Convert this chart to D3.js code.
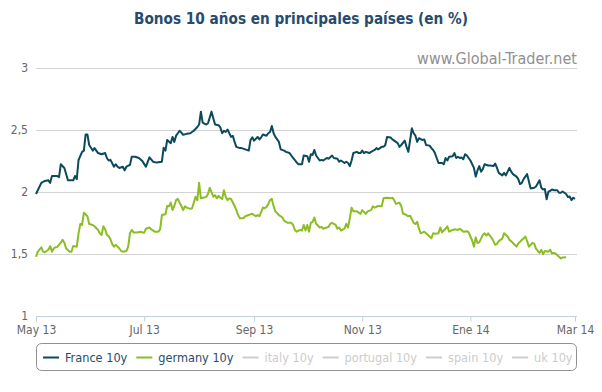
<!DOCTYPE html>
<html><head><meta charset="utf-8">
<script src="https://cdn.jsdelivr.net/npm/d3@7"></script>
<style>
body{margin:0;background:#fff}
svg{display:block}
text{font-family:"DejaVu Sans Condensed","Liberation Sans",sans-serif}
</style>
</head><body>
<svg id="chart" width="602" height="392"></svg>
<script>
// ---- data ----
const franceDates = ["2013-05-01","2013-05-04","2013-05-06","2013-05-08","2013-05-09","2013-05-10","2013-05-13","2013-05-14","2013-05-15","2013-05-17","2013-05-19","2013-05-22","2013-05-23","2013-05-24","2013-05-25","2013-05-27","2013-05-28","2013-05-29","2013-05-30","2013-05-31","2013-06-02","2013-06-03","2013-06-05","2013-06-07","2013-06-09","2013-06-10","2013-06-11","2013-06-12","2013-06-14","2013-06-15","2013-06-16","2013-06-17","2013-06-19","2013-06-20","2013-06-21","2013-06-23","2013-06-24","2013-06-26","2013-06-28","2013-06-30","2013-07-02","2013-07-04","2013-07-06","2013-07-08","2013-07-11","2013-07-12","2013-07-13","2013-07-14","2013-07-16","2013-07-17","2013-07-18","2013-07-19","2013-07-20","2013-07-21","2013-07-22","2013-07-23","2013-07-25","2013-07-27","2013-07-29","2013-07-31","2013-08-01","2013-08-02","2013-08-03","2013-08-05","2013-08-06","2013-08-08","2013-08-09","2013-08-10","2013-08-12","2013-08-13","2013-08-14","2013-08-15","2013-08-16","2013-08-17","2013-08-19","2013-08-20","2013-08-21","2013-08-22","2013-08-24","2013-08-25","2013-08-27","2013-08-29","2013-08-30","2013-08-31","2013-09-01","2013-09-03","2013-09-04","2013-09-05","2013-09-06","2013-09-08","2013-09-09","2013-09-10","2013-09-11","2013-09-12","2013-09-13","2013-09-15","2013-09-16","2013-09-18","2013-09-19","2013-09-21","2013-09-22","2013-09-24","2013-09-25","2013-09-26","2013-09-28","2013-09-29","2013-10-01","2013-10-02","2013-10-03","2013-10-04","2013-10-05","2013-10-06","2013-10-08","2013-10-09","2013-10-10","2013-10-12","2013-10-13","2013-10-15","2013-10-16","2013-10-18","2013-10-19","2013-10-20","2013-10-22","2013-10-23","2013-10-24","2013-10-25","2013-10-26","2013-10-27","2013-10-29","2013-10-30","2013-10-31","2013-11-01","2013-11-02","2013-11-03","2013-11-05","2013-11-06","2013-11-08","2013-11-09","2013-11-10","2013-11-12","2013-11-13","2013-11-14","2013-11-15","2013-11-17","2013-11-18","2013-11-19","2013-11-21","2013-11-22","2013-11-23","2013-11-25","2013-11-26","2013-11-27","2013-11-29","2013-11-30","2013-12-01","2013-12-02","2013-12-03","2013-12-05","2013-12-06","2013-12-07","2013-12-09","2013-12-10","2013-12-11","2013-12-12","2013-12-13","2013-12-14","2013-12-16","2013-12-17","2013-12-18","2013-12-19","2013-12-20","2013-12-22","2013-12-23","2013-12-24","2013-12-25","2013-12-26","2013-12-27","2013-12-28","2013-12-29","2013-12-30","2013-12-31","2014-01-01","2014-01-03","2014-01-04","2014-01-05","2014-01-06","2014-01-07","2014-01-08","2014-01-09","2014-01-11","2014-01-12","2014-01-14","2014-01-15","2014-01-16","2014-01-17","2014-01-19","2014-01-20","2014-01-21","2014-01-22","2014-01-23","2014-01-24","2014-01-25","2014-01-27","2014-01-28","2014-01-29","2014-01-30","2014-01-31","2014-02-02","2014-02-03","2014-02-04","2014-02-06","2014-02-07","2014-02-09","2014-02-10","2014-02-11","2014-02-12","2014-02-13","2014-02-14","2014-02-15","2014-02-16","2014-02-17","2014-02-19","2014-02-20","2014-02-21","2014-02-22","2014-02-24","2014-02-25","2014-02-26","2014-02-27","2014-02-28","2014-03-01"];
const franceValues = [1.98,2.07,2.085,2.09,2.07,2.125,2.125,2.115,2.22,2.19,2.09,2.09,2.125,2.10,2.254,2.32,2.33,2.46,2.46,2.375,2.33,2.35,2.31,2.30,2.31,2.27,2.25,2.255,2.20,2.22,2.20,2.19,2.20,2.17,2.20,2.215,2.28,2.28,2.27,2.245,2.20,2.276,2.24,2.233,2.24,2.353,2.33,2.415,2.39,2.44,2.40,2.45,2.47,2.49,2.475,2.457,2.465,2.47,2.49,2.52,2.54,2.644,2.555,2.54,2.55,2.644,2.59,2.54,2.535,2.515,2.47,2.49,2.48,2.50,2.44,2.45,2.40,2.36,2.35,2.35,2.34,2.33,2.415,2.437,2.41,2.44,2.42,2.437,2.46,2.45,2.47,2.48,2.528,2.47,2.44,2.40,2.34,2.33,2.32,2.31,2.29,2.254,2.235,2.22,2.22,2.29,2.285,2.24,2.30,2.295,2.335,2.29,2.25,2.255,2.25,2.27,2.265,2.29,2.27,2.265,2.24,2.25,2.23,2.24,2.23,2.205,2.25,2.31,2.32,2.31,2.31,2.33,2.31,2.32,2.31,2.32,2.335,2.35,2.34,2.36,2.36,2.375,2.44,2.435,2.42,2.41,2.39,2.36,2.375,2.41,2.36,2.32,2.51,2.47,2.45,2.40,2.43,2.415,2.42,2.375,2.37,2.35,2.335,2.31,2.27,2.23,2.23,2.22,2.27,2.25,2.28,2.285,2.31,2.27,2.28,2.27,2.275,2.26,2.30,2.29,2.27,2.25,2.19,2.12,2.17,2.205,2.16,2.18,2.22,2.21,2.21,2.205,2.225,2.19,2.15,2.13,2.15,2.13,2.16,2.19,2.16,2.14,2.12,2.10,2.06,2.07,2.10,2.14,2.08,2.025,2.03,2.04,2.09,2.03,2.017,2.02,1.937,1.998,2.005,2.017,2.01,2.01,1.99,1.99,2.00,1.98,1.955,1.96,1.93,1.95,1.94];

const germanyDates = ["2013-05-01","2013-05-02","2013-05-04","2013-05-05","2013-05-06","2013-05-08","2013-05-09","2013-05-10","2013-05-11","2013-05-12","2013-05-13","2013-05-15","2013-05-16","2013-05-17","2013-05-18","2013-05-20","2013-05-21","2013-05-22","2013-05-24","2013-05-25","2013-05-26","2013-05-27","2013-05-28","2013-05-30","2013-05-31","2013-06-02","2013-06-03","2013-06-05","2013-06-06","2013-06-07","2013-06-08","2013-06-09","2013-06-10","2013-06-11","2013-06-12","2013-06-13","2013-06-14","2013-06-15","2013-06-16","2013-06-17","2013-06-18","2013-06-19","2013-06-21","2013-06-22","2013-06-23","2013-06-24","2013-06-25","2013-06-27","2013-06-29","2013-06-30","2013-07-01","2013-07-02","2013-07-04","2013-07-05","2013-07-07","2013-07-09","2013-07-10","2013-07-11","2013-07-13","2013-07-14","2013-07-15","2013-07-16","2013-07-17","2013-07-18","2013-07-19","2013-07-20","2013-07-21","2013-07-22","2013-07-23","2013-07-24","2013-07-25","2013-07-27","2013-07-28","2013-07-29","2013-07-30","2013-07-31","2013-08-01","2013-08-02","2013-08-03","2013-08-05","2013-08-06","2013-08-07","2013-08-08","2013-08-09","2013-08-10","2013-08-11","2013-08-12","2013-08-13","2013-08-14","2013-08-15","2013-08-16","2013-08-17","2013-08-18","2013-08-19","2013-08-21","2013-08-22","2013-08-23","2013-08-24","2013-08-26","2013-08-27","2013-08-29","2013-08-30","2013-08-31","2013-09-02","2013-09-03","2013-09-04","2013-09-06","2013-09-07","2013-09-08","2013-09-09","2013-09-10","2013-09-11","2013-09-12","2013-09-13","2013-09-15","2013-09-17","2013-09-18","2013-09-20","2013-09-22","2013-09-23","2013-09-24","2013-09-25","2013-09-27","2013-09-28","2013-09-29","2013-09-30","2013-10-01","2013-10-02","2013-10-03","2013-10-04","2013-10-05","2013-10-06","2013-10-08","2013-10-09","2013-10-10","2013-10-12","2013-10-13","2013-10-14","2013-10-15","2013-10-17","2013-10-18","2013-10-19","2013-10-20","2013-10-22","2013-10-23","2013-10-24","2013-10-25","2013-10-26","2013-10-27","2013-10-29","2013-10-31","2013-11-01","2013-11-03","2013-11-04","2013-11-06","2013-11-07","2013-11-08","2013-11-10","2013-11-11","2013-11-12","2013-11-13","2013-11-15","2013-11-17","2013-11-18","2013-11-19","2013-11-20","2013-11-22","2013-11-23","2013-11-24","2013-11-25","2013-11-27","2013-11-28","2013-11-30","2013-12-01","2013-12-02","2013-12-03","2013-12-04","2013-12-06","2013-12-07","2013-12-09","2013-12-10","2013-12-11","2013-12-12","2013-12-14","2013-12-15","2013-12-16","2013-12-17","2013-12-18","2013-12-19","2013-12-20","2013-12-22","2013-12-23","2013-12-25","2013-12-26","2013-12-27","2013-12-28","2013-12-30","2013-12-31","2014-01-01","2014-01-02","2014-01-03","2014-01-04","2014-01-05","2014-01-06","2014-01-08","2014-01-09","2014-01-10","2014-01-11","2014-01-13","2014-01-14","2014-01-15","2014-01-16","2014-01-17","2014-01-19","2014-01-20","2014-01-22","2014-01-23","2014-01-24","2014-01-25","2014-01-27","2014-01-28","2014-01-30","2014-01-31","2014-02-01","2014-02-02","2014-02-03","2014-02-05","2014-02-06","2014-02-07","2014-02-09","2014-02-10","2014-02-11","2014-02-12","2014-02-14","2014-02-15","2014-02-16","2014-02-17","2014-02-18","2014-02-20","2014-02-21","2014-02-22","2014-02-24"];
const germanyValues = [1.474,1.515,1.55,1.515,1.51,1.53,1.56,1.515,1.54,1.55,1.553,1.587,1.61,1.587,1.54,1.515,1.515,1.56,1.555,1.663,1.738,1.73,1.829,1.80,1.738,1.73,1.72,1.69,1.663,1.65,1.72,1.695,1.65,1.64,1.615,1.575,1.555,1.57,1.555,1.54,1.52,1.515,1.52,1.555,1.663,1.69,1.67,1.67,1.676,1.67,1.668,1.70,1.71,1.695,1.676,1.676,1.695,1.81,1.817,1.883,1.88,1.91,1.85,1.883,1.93,1.94,1.91,1.883,1.85,1.88,1.87,1.86,1.865,1.91,1.958,1.93,2.07,1.945,1.95,1.955,1.98,2.03,1.995,1.958,1.97,1.945,1.965,1.95,1.94,2.01,1.958,1.93,1.945,1.94,1.883,1.85,1.81,1.785,1.785,1.80,1.81,1.817,1.82,1.80,1.81,1.80,1.87,1.865,1.876,1.90,1.93,1.94,1.883,1.84,1.81,1.79,1.763,1.747,1.747,1.73,1.69,1.676,1.69,1.685,1.73,1.685,1.73,1.676,1.747,1.755,1.79,1.74,1.71,1.715,1.70,1.71,1.715,1.74,1.747,1.73,1.70,1.71,1.685,1.70,1.74,1.71,1.785,1.87,1.84,1.84,1.82,1.85,1.82,1.84,1.85,1.88,1.87,1.883,1.883,1.88,1.945,1.95,1.945,1.95,1.93,1.90,1.91,1.883,1.82,1.817,1.80,1.805,1.747,1.738,1.755,1.70,1.663,1.676,1.663,1.637,1.623,1.663,1.66,1.663,1.71,1.67,1.685,1.70,1.72,1.676,1.69,1.695,1.69,1.70,1.69,1.676,1.68,1.67,1.637,1.605,1.555,1.63,1.585,1.59,1.65,1.663,1.645,1.663,1.625,1.60,1.57,1.578,1.60,1.62,1.663,1.637,1.61,1.60,1.585,1.555,1.58,1.61,1.62,1.637,1.60,1.555,1.585,1.58,1.54,1.505,1.53,1.495,1.52,1.515,1.53,1.50,1.505,1.50,1.474,1.46,1.468,1.47];

const xTickDates = ["2013-05-01","2013-07-01","2013-09-01","2013-11-01","2014-01-01","2014-03-01"];
const xTickLabels = ["May 13","Jul 13","Sep 13","Nov 13","Ene 14","Mar 14"];
const yTickValues = [1, 1.5, 2, 2.5, 3];
const yTickLabels = ["1", "1,5", "2", "2,5", "3"];

const legendNames = ["France 10y","germany 10y","italy 10y","portugal 10y","spain 10y","uk 10y"];
const legendVisible = [true, true, false, false, false, false];

const titleText = "Bonos 10 años en principales países (en %)";
const creditText = "www.Global-Trader.net";

// ---- drawing ----
const parse = d3.timeParse("%Y-%m-%d");
const svg = d3.select("#chart");
const colors = {france: "#0b4a5c", germany: "#8cbd25"};

const plotLeft = 36, plotRight = 576, plotTop = 67.5, plotBottom = 315.5;
const x = d3.scaleTime()
  .domain([parse("2013-05-01"), parse("2014-03-01")])
  .range([plotLeft, 575]);
const y = d3.scaleLinear().domain([1, 3]).range([plotBottom, plotTop]);

svg.append("rect").attr("width", 602).attr("height", 392).attr("fill", "#fff");

// title
svg.append("text")
  .attr("x", 301).attr("y", 24)
  .attr("text-anchor", "middle")
  .attr("font-size", 15.2).attr("font-weight", "bold")
  .attr("fill", "#274b6d")
  .text(titleText);

// credit
svg.append("text")
  .attr("x", 577).attr("y", 64)
  .attr("text-anchor", "end")
  .attr("font-size", 16)
  .attr("fill", "#909090")
  .text(creditText);

// grid lines
svg.append("g").selectAll("line")
  .data(yTickValues.filter(v => v > 1))
  .join("line")
  .attr("x1", plotLeft).attr("x2", plotRight + 1)
  .attr("y1", d => Math.round(y(d)) + 0.5).attr("y2", d => Math.round(y(d)) + 0.5)
  .attr("stroke", "#d3d3d3").attr("stroke-width", 1);

// y axis labels
const yAxis = d3.axisLeft(y)
  .tickValues(yTickValues)
  .tickFormat((d, i) => yTickLabels[i])
  .tickSize(0).tickPadding(0);
const gy = svg.append("g").attr("transform", "translate(28,0)").call(yAxis);
gy.select(".domain").remove();
gy.selectAll("text").attr("fill", "#666").attr("font-size", 12)
  .attr("font-family", "'DejaVu Sans Condensed',sans-serif");

// x axis
const xAxis = d3.axisBottom(x)
  .tickValues(xTickDates.map(parse))
  .tickFormat((d, i) => xTickLabels[i])
  .tickSizeInner(5).tickSizeOuter(0).tickPadding(4);
const gx = svg.append("g").attr("transform", `translate(0,${Math.round(plotBottom) + 0.5})`).call(xAxis);
gx.select(".domain").attr("stroke", "#C0D0E0").attr("d", `M${plotLeft},0H${plotRight + 1}`);
gx.selectAll(".tick line").attr("stroke", "#C0D0E0");
gx.selectAll("text").attr("fill", "#666").attr("font-size", 12)
  .attr("font-family", "'DejaVu Sans Condensed',sans-serif");

// lines
const line = d3.line().x(d => x(d[0])).y(d => y(d[1]));
const franceData = franceDates.map((d, i) => [parse(d), franceValues[i]]);
const germanyData = germanyDates.map((d, i) => [parse(d), germanyValues[i]]);

svg.append("path").datum(germanyData)
  .attr("d", line).attr("fill", "none")
  .attr("stroke", colors.germany).attr("stroke-width", 2).attr("stroke-linejoin", "round");
svg.append("path").datum(franceData)
  .attr("d", line).attr("fill", "none")
  .attr("stroke", colors.france).attr("stroke-width", 2).attr("stroke-linejoin", "round");

// legend
const legendColors = [colors.france, colors.germany, "#ccc", "#ccc", "#ccc", "#ccc"];
const lg = svg.append("g");
lg.append("rect")
  .attr("x", 36.5).attr("y", 343.5).attr("width", 540).attr("height", 27)
  .attr("rx", 5).attr("fill", "#fff").attr("stroke", "#909090");
let cx = 43;
legendNames.forEach((name, i) => {
  const col = legendVisible[i] ? legendColors[i] : "#ccc";
  lg.append("line").attr("x1", cx).attr("x2", cx + 16)
    .attr("y1", 357.5).attr("y2", 357.5)
    .attr("stroke", col).attr("stroke-width", 2);
  const t = lg.append("text").attr("x", cx + 22).attr("y", 361.5)
    .attr("font-size", 12.6)
    .attr("fill", legendVisible[i] ? "#274b6d" : "#ccc")
    .text(name);
  cx += 22 + t.node().getComputedTextLength() + 9;
});
</script>
</body></html>
